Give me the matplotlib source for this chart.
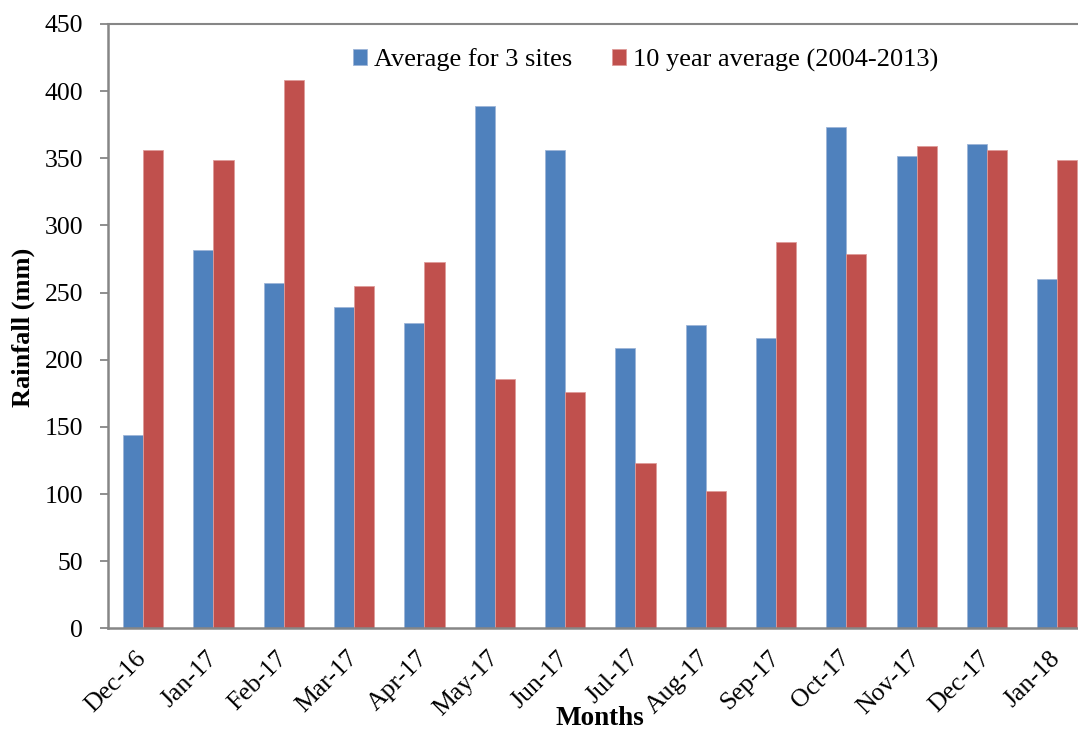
import matplotlib
matplotlib.use("Agg")
import matplotlib.pyplot as plt
import matplotlib.transforms as mtransforms
import numpy as np

months = ["Dec-16", "Jan-17", "Feb-17", "Mar-17", "Apr-17", "May-17", "Jun-17",
          "Jul-17", "Aug-17", "Sep-17", "Oct-17", "Nov-17", "Dec-17", "Jan-18"]
avg_3_sites = [144, 282, 257, 239, 227, 389, 356, 209, 226, 216, 373, 352, 361, 260]
ten_year_avg = [356, 349, 408, 255, 273, 186, 176, 123, 102, 288, 279, 359, 356, 349]
series_labels = ["Average for 3 sites", "10 year average (2004-2013)"]
y_ticks = [0, 50, 100, 150, 200, 250, 300, 350, 400, 450]

BLUE = "#4F81BD"
RED = "#C0504D"
AXIS_GREY = "#868686"

plt.rcParams["font.family"] = ["Liberation Serif", "DejaVu Serif"]

W, H = 1078, 732
fig = plt.figure(figsize=(W / 100, H / 100), dpi=100)

# plot area in pixels: x from 108 to 1092.5 (runs past the right edge), y from 24 to 628.3
left, right, top, bottom = 108, 1092.5, 24, 628.3
ax = fig.add_axes([left / W, 1 - bottom / H, (right - left) / W, (bottom - top) / H])

x = np.arange(len(months))
bw = 1 / 3.5
ax.bar(x - bw / 2, avg_3_sites, width=bw, color=BLUE, edgecolor="#9DB5D8",
       linewidth=0.6, label=series_labels[0], zorder=2)
ax.bar(x + bw / 2, ten_year_avg, width=bw, color=RED, edgecolor="#DE9C9A",
       linewidth=0.6, label=series_labels[1], zorder=2)

ax.set_xlim(-0.5, len(months) - 0.5)
ax.set_ylim(0, 450)
ax.set_yticks(y_ticks)
ax.set_yticklabels([str(v) for v in y_ticks], fontsize=18.5)

ax.set_xticks(x)
ax.set_xticklabels(months, fontsize=18.5, rotation=45, ha="right", va="center",
                   rotation_mode="anchor")
offset = mtransforms.ScaledTranslation(4 / 100, 0, fig.dpi_scale_trans)
for lbl in ax.get_xticklabels():
    lbl.set_transform(lbl.get_transform() + offset)

ax.tick_params(axis="y", direction="out", length=6, width=1.3, color=AXIS_GREY,
               pad=12)
ax.tick_params(axis="x", length=0, pad=19)

for side in ["left", "bottom"]:
    ax.spines[side].set_color(AXIS_GREY)
    ax.spines[side].set_linewidth(1.8)
ax.spines["top"].set_color(AXIS_GREY)
ax.spines["top"].set_linewidth(1.5)
ax.spines["right"].set_visible(False)

fig.text(23 / W, 1 - 327 / H, "Rainfall (mm)", rotation=90, ha="center",
         va="center", fontsize=19, fontweight="bold")
fig.text(600 / W, 1 - 725 / H, "Months", ha="center", va="baseline",
         fontsize=19.5, fontweight="bold")

fig.legend(loc="center", bbox_to_anchor=(645.5 / W, 1 - 60 / H), ncol=2,
           frameon=False, fontsize=19, handlelength=0.55, handleheight=0.55,
           handletextpad=0.25, columnspacing=1.5, borderpad=0)

fig.savefig("out.png", dpi=100)
